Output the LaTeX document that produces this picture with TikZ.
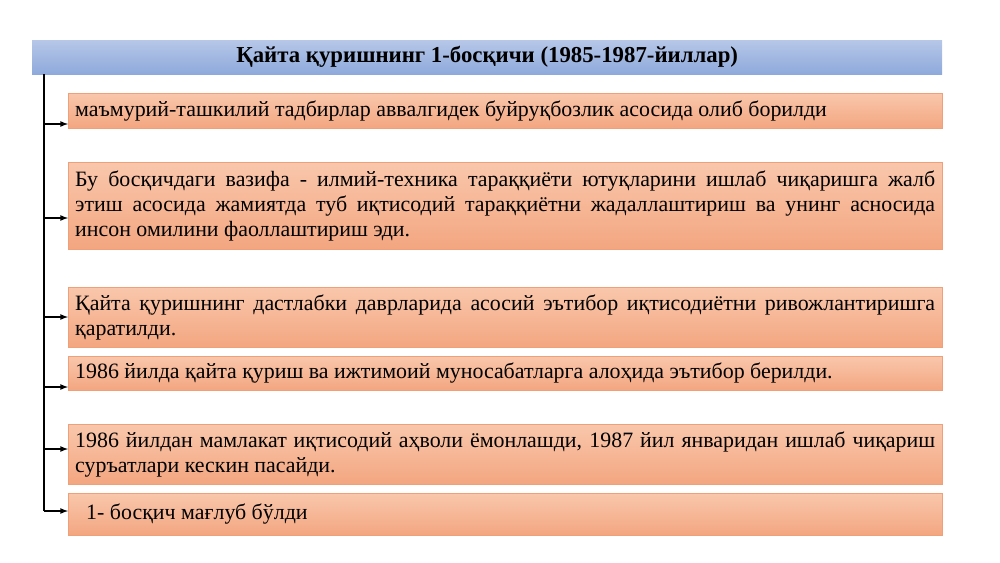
\documentclass[tikz,border=0pt]{standalone}
\usepackage{fontspec}
\setmainfont{Liberation Serif}
\usepackage{tikz}

\definecolor{boxtop}{RGB}{249,199,172}
\definecolor{boxbot}{RGB}{243,166,128}
\definecolor{boxline}{RGB}{240,160,120}
\definecolor{titletop}{RGB}{182,199,232}
\definecolor{titlebot}{RGB}{142,169,219}

\begin{document}
\begin{tikzpicture}[x=1pt, y=-1pt,
	stagebox/.style={draw=boxline, top color=boxtop, bottom color=boxbot,
		anchor=north west, minimum width=874pt, text width=860pt,
		inner xsep=7pt, inner ysep=0pt, align=justify,
		font=\fontsize{21.9}{25}\selectfont},
	link/.style={black, line width=1.6pt, -latex}]
		\useasboundingbox (0,0) rectangle (1000,562);
		% title
		\node[draw=none, top color=titletop, bottom color=titlebot, anchor=north west,
			minimum width=910pt, minimum height=34pt, inner sep=0pt,
			font=\fontsize{22.8}{25}\selectfont\bfseries] (title) at (32,40)
			{Қайта қуришнинг 1-босқичи (1985-1987-йиллар)};
		% boxes
		\node[stagebox, minimum height=35pt] (b1) at (68,93)
			{маъмурий-ташкилий тадбирлар аввалгидек буйруқбозлик асосида олиб борилди};
		\node[stagebox, minimum height=87pt] (b2) at (68,162)
			{Бу босқичдаги вазифа - илмий-техника тараққиёти ютуқларини ишлаб чиқаришга жалб\linebreak этиш асосида жамиятда туб иқтисодий тараққиётни жадаллаштириш ва унинг асносида\linebreak инсон омилини фаоллаштириш эди.};
		\node[stagebox, minimum height=60pt] (b3) at (68,287)
			{Қайта қуришнинг дастлабки даврларида асосий эътибор иқтисодиётни ривожлантиришга қаратилди.};
		\node[stagebox, minimum height=34pt] (b4) at (68,356)
			{1986 йилда қайта қуриш ва ижтимоий муносабатларга алоҳида эътибор берилди.};
		\node[stagebox, minimum height=60pt] (b5) at (68,424)
			{1986 йилдан мамлакат иқтисодий аҳволи ёмонлашди, 1987 йил январидан ишлаб чиқариш суръатлари кескин пасайди.};
		\node[stagebox, minimum height=42pt] (b6) at (68,493)
			{\hspace*{11pt}\raisebox{-6pt}{1- босқич мағлуб бўлди}};
		% spine
		\coordinate (top) at (title.south -| 44,0);
		\coordinate (s1) at (44,124);
		\coordinate (s2) at (44,218);
		\coordinate (s3) at (44,317);
		\coordinate (s4) at (44,387);
		\coordinate (s5) at (44,449);
		\coordinate (s6) at (44,511);
		\draw[black, line width=1.6pt] (top) -- (s6);
		% arrows
		\foreach \i in {1,...,6}
			\draw[link] (s\i) -- (b\i.west |- s\i);
	\end{tikzpicture}
\end{document}
